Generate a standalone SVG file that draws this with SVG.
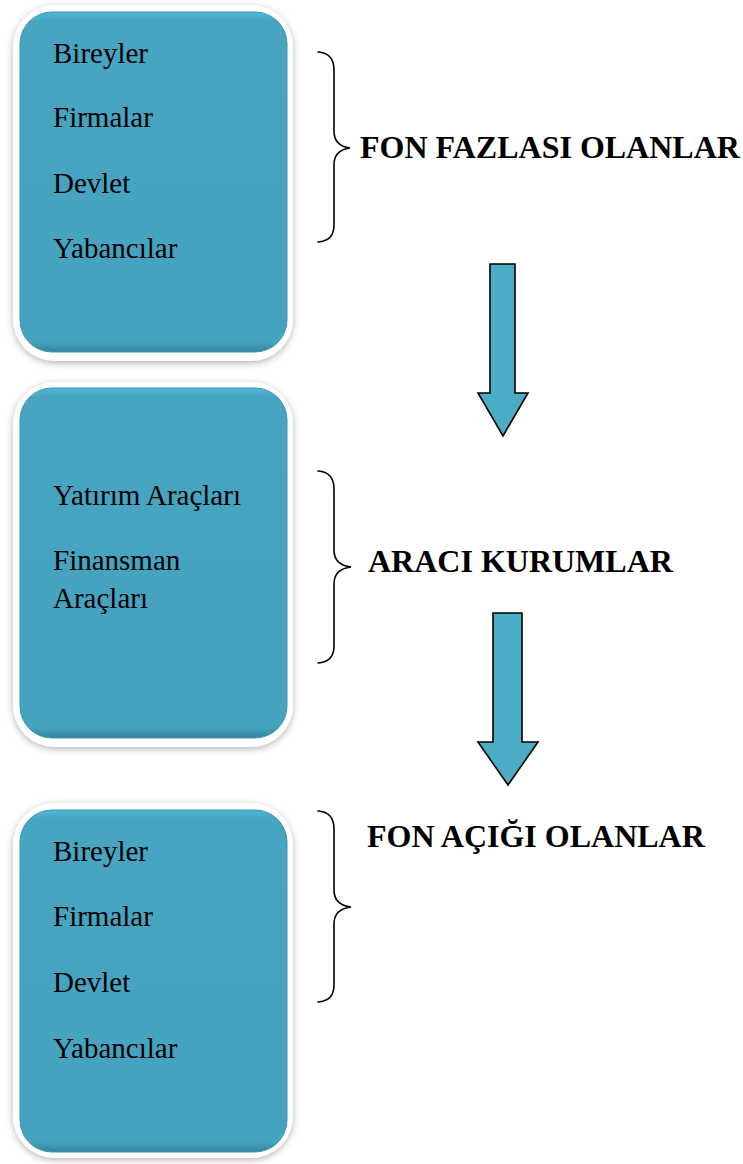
<svg xmlns="http://www.w3.org/2000/svg" width="743" height="1164" viewBox="0 0 743 1164">
  <defs>
    <filter id="soft" x="-10%" y="-10%" width="120%" height="120%">
      <feDropShadow dx="0" dy="2" stdDeviation="3.5" flood-color="#000" flood-opacity="0.3"/>
    </filter>
    <linearGradient id="panel" x1="0" y1="0" x2="0" y2="1">
      <stop offset="0" stop-color="#4FB8D8"/>
      <stop offset="0.025" stop-color="#47A5C1"/>
      <stop offset="0.97" stop-color="#46A3BF"/>
      <stop offset="1" stop-color="#35859C"/>
    </linearGradient>
  </defs>
  <style>
    .frame { fill: #ffffff; filter: url(#soft); }
    .panel { fill: url(#panel); stroke: #3E95AE; stroke-width: 1; }
    .item { font-family: "Liberation Serif", "Times New Roman", serif; font-size: 29px; fill: #000; }
    .head { font-family: "Liberation Serif", "Times New Roman", serif; font-size: 32px; font-weight: bold; fill: #000; }
    .brace { fill: none; stroke: #000; stroke-width: 1.6; stroke-linecap: round; }
    .arrow { fill: #4BACC6; stroke: #000; stroke-width: 1.6; stroke-linejoin: miter; }
  </style>

  <rect width="743" height="1164" fill="#ffffff"/>

  <!-- surplus units -->
  <g id="node-surplus">
    <rect class="frame" x="13" y="5" width="280" height="356" rx="42"/>
    <rect class="panel" x="20" y="12" width="267" height="340" rx="32"/>
    <text class="item" x="53" y="63">Bireyler</text>
    <text class="item" x="53" y="127">Firmalar</text>
    <text class="item" x="53" y="193">Devlet</text>
    <text class="item" x="53" y="258">Yabancılar</text>
  </g>

  <!-- intermediaries -->
  <g id="node-instruments">
    <rect class="frame" x="13" y="382" width="280" height="365" rx="42"/>
    <rect class="panel" x="20" y="388" width="267" height="350" rx="32"/>
    <text class="item" x="53" y="505">Yatırım Araçları</text>
    <text class="item" x="53" y="570">Finansman</text>
    <text class="item" x="53" y="608">Araçları</text>
  </g>

  <!-- deficit units -->
  <g id="node-deficit">
    <rect class="frame" x="13" y="803" width="280" height="355" rx="42"/>
    <rect class="panel" x="20" y="810" width="267" height="342" rx="32"/>
    <text class="item" x="53" y="861">Bireyler</text>
    <text class="item" x="53" y="926">Firmalar</text>
    <text class="item" x="53" y="992">Devlet</text>
    <text class="item" x="53" y="1058">Yabancılar</text>
  </g>

  <g id="label-surplus">
    <text class="head" x="360" y="158">FON FAZLASI OLANLAR</text>
  </g>
  <g id="label-intermediaries">
    <text class="head" x="368" y="572">ARACI KURUMLAR</text>
  </g>
  <g id="label-deficit">
    <text class="head" x="367" y="847">FON AÇIĞI OLANLAR</text>
  </g>

  <g id="connectors">
    <!-- curly braces -->
    <path class="brace" d="M318,52 Q334,53 334,70 L334,131 Q334,146 350,148 Q334,150 334,165 L334,225 Q334,241 318,242"/>
    <path class="brace" d="M318,471 Q334,472 334,489 L334,550 Q334,565 351,567 Q334,569 334,584 L334,646 Q334,662 318,663"/>
    <path class="brace" d="M318,811 Q334,812 334,829 L334,890 Q334,905 351,907 Q334,909 334,924 L334,985 Q334,1001 318,1002"/>
    <!-- block arrows -->
    <path class="arrow" d="M490,264 L515,264 L515,393 L528,393 L503,436 L478,393 L490,393 Z"/>
    <path class="arrow" d="M493,613 L522,613 L522,742 L538,742 L508,785 L478,742 L493,742 Z"/>
  </g>
</svg>
